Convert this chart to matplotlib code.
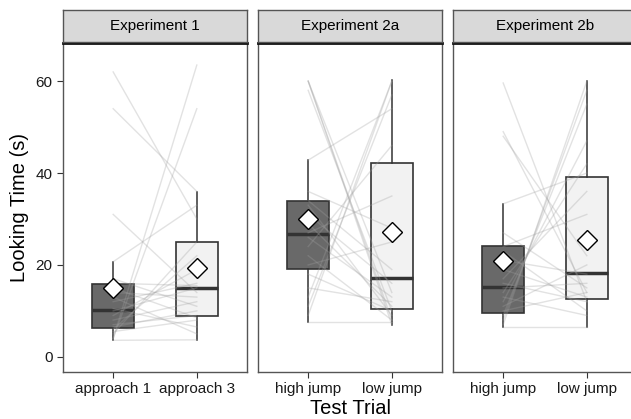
import matplotlib.pyplot as plt
import numpy as np

plt.rcParams['font.family'] = ['Liberation Sans', 'DejaVu Sans']

panels = ["Experiment 1", "Experiment 2a", "Experiment 2b"]
trial_labels = [["approach 1", "approach 3"], ["high jump", "low jump"], ["high jump", "low jump"]]

# box summaries: [whisker low, q1, median, q3, whisker high, mean]
box_stats = [
    [[3.6, 6.2, 10.1, 15.9, 20.7, 14.9], [3.7, 8.8, 15.0, 25.1, 35.8, 19.3]],
    [[7.6, 19.2, 26.7, 34.0, 42.8, 29.9], [7.0, 10.4, 17.2, 42.2, 60.2, 27.1]],
    [[6.6, 9.5, 15.1, 24.1, 33.3, 20.9], [6.5, 12.6, 18.2, 39.2, 60.1, 25.5]],
]

# individual looking times (first trial, second trial)
exp1_first = [3.6, 4, 4, 5, 5.5, 6, 6.5, 7, 8, 9, 10, 10.5, 12, 13, 14, 15, 16, 17, 20.7, 31, 54, 62]
exp1_second = [3.7, 63.5, 54, 25, 8, 22, 10, 9, 12, 19, 15, 6.5, 16, 5, 13, 8.5, 15.5, 11, 33, 14, 36, 30]
exp2a_first = [7.6, 9, 11, 13, 15, 18, 20, 22, 24, 26, 27, 29, 31, 33, 34, 36, 42.8, 60, 60, 58, 60]
exp2a_second = [7.6, 60, 57, 60, 12, 10, 25, 8, 46, 13, 35, 11, 16, 9, 19, 28, 54, 7, 14, 10, 8]
exp2b_first = [6.6, 7, 8, 9, 10, 11, 12, 13, 14, 15, 16, 17, 19, 21, 23, 24, 27, 33.3, 59.6, 49, 48]
exp2b_second = [6.6, 60, 58, 55, 14, 20, 47, 9, 42, 16, 12, 36, 13, 18, 10, 31, 15, 40, 12, 14, 22]

subjects = [(exp1_first, exp1_second), (exp2a_first, exp2a_second), (exp2b_first, exp2b_second)]

fig = plt.figure(figsize=(6.31, 4.19), dpi=100)
W, H = 631, 419
lefts = [63, 258, 453]
pw = 184
top, bottom = 43, 372

for i, name in enumerate(panels):
    ax = fig.add_axes([lefts[i] / W, (H - bottom) / H, pw / W, (bottom - top) / H])
    stats = []
    for s in box_stats[i]:
        stats.append(dict(whislo=s[0], q1=s[1], med=s[2], q3=s[3], whishi=s[4], mean=s[5], fliers=[]))
    bp = ax.bxp(stats, positions=[1, 2], widths=0.5, patch_artist=True, showmeans=False,
                showcaps=False,
                boxprops=dict(edgecolor='#333333', linewidth=1.2),
                medianprops=dict(color='#333333', linewidth=2.5),
                whiskerprops=dict(color='#333333', linewidth=1.1))
    for patch, fc in zip(bp['boxes'], ['#696969', '#f2f2f2']):
        patch.set_facecolor(fc)
    first, second = subjects[i]
    for a, b in zip(first, second):
        ax.plot([1, 2], [a, b], color='#a0a0a0', alpha=0.3, linewidth=1, zorder=3)
    ax.plot([1, 2], [box_stats[i][0][5], box_stats[i][1][5]], linestyle='none', marker='D',
            markersize=10, markerfacecolor='white', markeredgecolor='black',
            markeredgewidth=1, zorder=4)

    ax.set_xlim(0.4, 2.6)
    ax.set_ylim(-3.3, 68.3)
    ax.set_xticks([1, 2])
    ax.set_xticklabels(trial_labels[i], fontsize=11, color='#1a1a1a')
    ax.set_yticks([0, 20, 40, 60])
    if i == 0:
        ax.set_yticklabels(['0', '20', '40', '60'], fontsize=11, color='#1a1a1a')
        ax.set_ylabel("Looking Time (s)", fontsize=14.5, labelpad=5)
    else:
        ax.tick_params(axis='y', left=False, labelleft=False)
    ax.tick_params(length=4, color='#333333', width=0.8)
    for side in ['left', 'right', 'bottom']:
        ax.spines[side].set_color('#555555')
        ax.spines[side].set_linewidth(1)
    ax.spines['top'].set_color('#111111')
    ax.spines['top'].set_linewidth(2)

    sax = fig.add_axes([lefts[i] / W, (H - 42) / H, pw / W, 32 / H])
    sax.set_facecolor('#d9d9d9')
    sax.set_xticks([])
    sax.set_yticks([])
    for side in sax.spines.values():
        side.set_color('#555555')
        side.set_linewidth(1)
    sax.text(0.5, 0.5, name, ha='center', va='center', fontsize=11, transform=sax.transAxes)

fig.text((63 + 453 + 184) / 2 / W, 1 / H, "Test Trial", ha='center', va='bottom', fontsize=14.5)

fig.savefig("out.png", dpi=100)
